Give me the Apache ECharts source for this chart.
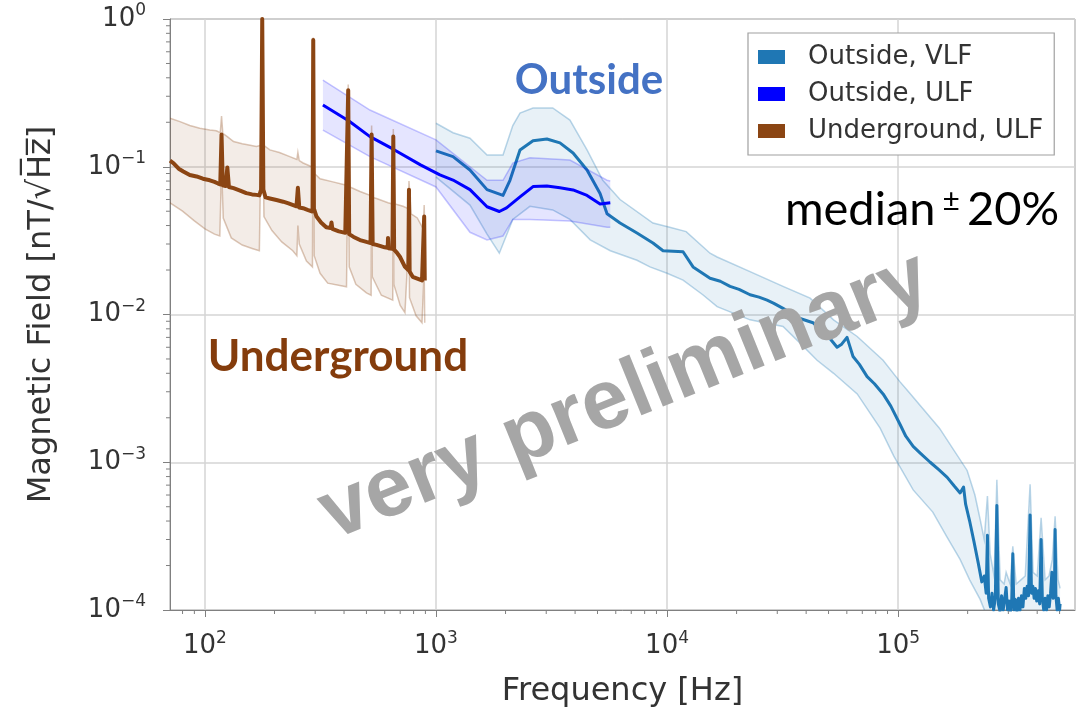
<!DOCTYPE html>
<html>
<head>
<meta charset="utf-8">
<script src="https://cdn.jsdelivr.net/npm/echarts@6/dist/echarts.min.js"></script>
<style>
  html, body { margin: 0; padding: 0; background: #fff; }
  #main { width: 1089px; height: 721px; }
</style>
</head>
<body>
<div id="main"></div>
<script>
// axis ranges and tick values
var X_MIN = 70.6, X_MAX = 583000;
var Y_MIN = 1e-4, Y_MAX = 1;
var xMinorTicks = [70, 80, 90, 200, 300, 400, 500, 600, 700, 800, 900,
  2000, 3000, 4000, 5000, 6000, 7000, 8000, 9000,
  20000, 30000, 40000, 50000, 60000, 70000, 80000, 90000,
  200000, 300000, 400000, 500000];
var yMinorTicks = [2e-4, 3e-4, 4e-4, 5e-4, 6e-4, 7e-4, 8e-4, 9e-4,
  2e-3, 3e-3, 4e-3, 5e-3, 6e-3, 7e-3, 8e-3, 9e-3,
  0.02, 0.03, 0.04, 0.05, 0.06, 0.07, 0.08, 0.09,
  0.2, 0.3, 0.4, 0.5, 0.6, 0.7, 0.8, 0.9];

// Outside, VLF  [frequency Hz, nT/sqrt(Hz)]
var vlfMedian = [[1000,0.128],[1185,0.117],[1403,0.095],[1663,0.070],[1950,0.064],[2090,0.081],[2310,0.130],
  [2630,0.150],[3020,0.154],[3440,0.145],[3920,0.124],[4505,0.095],[5130,0.066],[5500,0.048],[6260,0.0416],
  [7410,0.0356],[8690,0.0305],[9610,0.027],[11730,0.0266],[12960,0.021],[15350,0.0176],[17000,0.0168],
  [18740,0.0155],[20500,0.0148],[22870,0.0136],[25000,0.0131],[27100,0.0125],[29000,0.0119],[31770,0.011],
  [34500,0.0102],[37640,0.0094],[42850,0.0088],[47330,0.0076],[51000,0.0068],[54440,0.0060],[57000,0.0063],
  [60120,0.0070],[63830,0.0052],[68000,0.0046],[73440,0.0038],[79000,0.0034],[86100,0.0029],[93000,0.0024],
  [102000,0.0018],[108000,0.0015],[116200,0.00128],[125000,0.00115],[137700,0.0010],[150000,0.00089],
  [163100,0.00079],[175000,0.00069],[185500,0.00062],[192000,0.00068],[196000,0.00052],[204000,0.00040],
  [213000,0.00029],[222000,0.00021],[230300,0.000155],[236000,0.00017],[240500,0.00013],[243600,0.00032],
  [246500,0.00012],[251000,0.000105],[255000,0.00013],[259000,0.0001],[263500,0.00012],[267600,0.00051],
  [271500,0.00011],[276000,0.000098],[280500,0.000125],[285000,0.0001],[289500,0.00012],[293500,0.000142],
  [297500,0.0001],[302000,0.000115],[306500,0.000098],[310500,0.00012],[313700,0.00024],[317000,0.0001],
  [322000,0.000118],[327000,0.000097],[332000,0.00012],[337000,0.0001],[342000,0.000125],[347000,0.000105],
  [352000,0.00014],[357000,0.00012],[362000,0.000145],[367000,0.000125],[372700,0.00044],[378000,0.00013],
  [383000,0.000145],[388000,0.00012],[393000,0.00014],[398000,0.000115],[404000,0.000135],[410000,0.00011],
  [415900,0.0003],[421000,0.00012],[427000,0.0001],[433000,0.00012],[439000,0.0001],[445000,0.000125],
  [451000,0.000105],[457000,0.00013],[463000,0.00018],[469000,0.00012],[475000,0.00013],[478200,0.00035],
  [482000,0.000125],[488000,0.0001],[494000,0.00012],[500000,0.0001],[502600,0.00011]];
var vlfUpper = [[1000,0.197],[1185,0.17],[1403,0.156],[1663,0.12],[1950,0.12],[2150,0.19],[2310,0.231],
  [2630,0.25],[3200,0.25],[3800,0.207],[4505,0.13],[5270,0.081],[6260,0.06],[8690,0.0416],[10270,0.039],
  [12100,0.0364],[15350,0.026],[16470,0.0245],[22870,0.0195],[31770,0.0155],[41620,0.0129],[52570,0.0092],
  [66530,0.0071],[86100,0.0049],[102000,0.0035],[111000,0.003],[151000,0.0017],[199000,0.00088],
  [215000,0.0006],[226500,0.00041],[236000,0.0003],[243600,0.00059],[250300,0.00024],[260400,0.00017],
  [267600,0.00076],[276500,0.00016],[287700,0.00015],[293500,0.00018],[305500,0.00015],[313700,0.00027],
  [324400,0.00015],[340000,0.00016],[355000,0.00017],[372700,0.00071],[384000,0.00018],[400000,0.00017],
  [415900,0.00042],[432900,0.00016],[450000,0.00017],[465000,0.00022],[478200,0.00043],[492700,0.00016],
  [502600,0.00014]];
var vlfLower = [[1000,0.085],[1403,0.055],[1663,0.035],[1880,0.026],[2150,0.044],[2550,0.054],[3200,0.051],
  [3800,0.044],[4650,0.032],[5680,0.027],[7410,0.0233],[8430,0.021],[10000,0.019],[11730,0.0171],
  [14280,0.0136],[16470,0.0113],[22870,0.0092],[31770,0.0083],[37640,0.0064],[44600,0.0049],[52570,0.0040],
  [66530,0.0029],[83600,0.0017],[95800,0.0011],[116200,0.00065],[141300,0.00046],[163100,0.00031],
  [185500,0.00022],[204000,0.00016],[226500,0.000118],[242900,0.00009],[300000,0.00008],[502600,0.00008]];

// Outside, ULF
var ulfMedian = [[324,0.262],[420,0.204],[518,0.16],[650,0.132],[857,0.103],[1040,0.088],[1185,0.0813],
  [1403,0.070],[1663,0.0536],[1880,0.0498],[2020,0.0527],[2310,0.0625],[2630,0.0734],[3020,0.074],
  [3440,0.072],[3920,0.0697],[4505,0.064],[5130,0.056],[5680,0.057]];
var ulfUpper = [[324,0.386],[518,0.242],[1000,0.152],[1403,0.10],[1663,0.081],[1950,0.081],[2150,0.106],
  [2550,0.115],[3800,0.111],[5500,0.081],[5680,0.08]];
var ulfLower = [[324,0.177],[518,0.117],[1000,0.073],[1403,0.036],[1663,0.032],[1950,0.034],[2150,0.044],
  [2550,0.044],[3800,0.043],[5500,0.039],[5680,0.039]];

// Underground, ULF
var ugMedian = [[70.6,0.110],[73,0.106],[77,0.097],[80.6,0.093],[86,0.088],[92,0.086],[98,0.083],[105,0.081],
  [110,0.079],[114,0.077],[116.5,0.076],[118,0.165],[119.5,0.075],[123,0.074],[125,0.099],[127,0.073],
  [133,0.0716],[142,0.069],[151,0.0663],[160,0.065],[167,0.0645],[172,0.064],[175,0.07],[177,1.0],[179,0.07],
  [183,0.062],[191,0.061],[204,0.0595],[218,0.058],[230,0.0565],[241,0.055],[249,0.054],[252.5,0.072],
  [256,0.053],[266,0.0524],[278,0.051],[290,0.0498],[292.3,0.052],[294.3,0.72],[296.3,0.052],[304,0.046],
  [318,0.042],[335,0.039],[350,0.0385],[353,0.042],[356,0.038],[380,0.0365],[405,0.0357],[413,0.036],
  [417,0.33],[421,0.035],[440,0.0335],[469,0.0319],[500,0.031],[521,0.0305],[526.5,0.165],[532,0.030],
  [553,0.0296],[600,0.0285],[618,0.0283],[620,0.033],[623,0.0281],[648,0.0278],[653.5,0.16],[659,0.0275],
  [680,0.026],[698,0.0246],[734,0.021],[759,0.020],[764,0.07],[769,0.0195],[793,0.018],[830,0.0175],
  [870,0.017],[884,0.0168],[889,0.046],[894,0.017]];
var ugUpper = [[70.6,0.213],[78,0.202],[86,0.19],[95,0.182],[105,0.177],[112,0.175],[116.5,0.17],[118,0.22],
  [119.5,0.168],[125,0.16],[133,0.148],[145,0.143],[157,0.14],[167,0.137],[175,0.14],[177,1.05],[179,0.14],
  [191,0.13],[210,0.125],[233,0.117],[250,0.112],[252.5,0.125],[256,0.11],[266,0.106],[290,0.1],
  [294.3,0.75],[298,0.09],[315,0.083],[358,0.079],[410,0.075],[417,0.36],[424,0.073],[469,0.068],
  [520,0.064],[526.5,0.19],[533,0.062],[553,0.061],[620,0.057],[648,0.056],[653.5,0.18],[665,0.056],
  [720,0.054],[759,0.052],[764,0.08],[780,0.048],[830,0.045],[880,0.038],[889,0.055],[894,0.037]];
var ugLower = [[70.6,0.057],[80,0.05],[90,0.043],[100,0.038],[110,0.035],[116,0.034],[118,0.1],[120,0.045],
  [130,0.033],[145,0.0295],[160,0.028],[172,0.027],[177,0.5],[180,0.046],[195,0.037],[215,0.031],
  [240,0.027],[250,0.025],[252.5,0.04],[256,0.03],[275,0.023],[292,0.021],[294.3,0.4],[297,0.025],
  [315,0.019],[340,0.0163],[410,0.0154],[417,0.15],[421,0.021],[450,0.016],[500,0.014],[524,0.0135],
  [526.5,0.1],[530,0.018],[580,0.0135],[650,0.0125],[653.5,0.1],[657,0.016],[700,0.0115],[734,0.0103],
  [764,0.035],[768,0.013],[820,0.0098],[870,0.0088],[889,0.02],[894,0.0088]];

var FONT = "'DejaVu Sans', sans-serif";
var GRID_C = '#d4d4d4', FRAME_C = '#808080';

function powLabel(v) {
  var e = Math.round(Math.log10(v));
  return '{b|10}{s|' + (e < 0 ? '\u2212' + (-e) : e) + '}';
}
var labelRich = {
  b: { fontSize: 26, fontFamily: FONT, color: '#333' },
  s: { fontSize: 17, fontFamily: FONT, color: '#333', padding: [0, 0, 16, 0] }
};

// shaded percentile band, drawn through the grid's coord system
function band(name, upper, lower, fill, edge, z) {
  return {
    type: 'custom', name: name, coordinateSystem: 'cartesian2d',
    clip: true, silent: true, z: z,
    data: [upper[0]],
    renderItem: function (params, api) {
      var up = upper.map(function (d) { return api.coord(d); });
      var lo = lower.map(function (d) { return api.coord(d); });
      return { type: 'group', children: [
        { type: 'polygon', shape: { points: up.concat(lo.slice().reverse()) }, style: { fill: fill } },
        { type: 'polyline', shape: { points: up }, style: { stroke: edge, lineWidth: 1.5, fill: null } },
        { type: 'polyline', shape: { points: lo }, style: { stroke: edge, lineWidth: 1.5, fill: null } }
      ]};
    }
  };
}

function medianLine(name, data, color, width, z) {
  return {
    type: 'line', name: name, data: data, showSymbol: false, z: z,
    color: color, itemStyle: { color: color },
    lineStyle: { color: color, width: width, join: 'round' }
  };
}

function minorTicks(vals, isX) {
  var data = isX
    ? vals.filter(function (v) { return v >= X_MIN && v <= X_MAX; }).map(function (v) { return [v, Y_MIN]; })
    : vals.map(function (v) { return [X_MIN, v]; });
  return {
    type: 'custom', coordinateSystem: 'cartesian2d', clip: false, silent: true, z: 1,
    data: data,
    renderItem: function (params, api) {
      var p = api.coord([api.value(0), api.value(1)]);
      return { type: 'line',
        shape: isX ? { x1: p[0], y1: p[1], x2: p[0], y2: p[1] + 4 } : { x1: p[0], y1: p[1], x2: p[0] - 4, y2: p[1] },
        style: { stroke: FRAME_C, lineWidth: 1 } };
    }
  };
}

var myChart = echarts.init(document.getElementById('main'));
var option = {
  backgroundColor: '#fff',
  animation: false,
  grid: { left: 170, right: 14, top: 19, bottom: 111, show: true, borderColor: FRAME_C, borderWidth: 1 },
  legend: {
    orient: 'vertical', left: 748, top: 33,
    data: ['Outside, VLF', 'Outside, ULF', 'Underground, ULF'],
    icon: 'rect', itemWidth: 27, itemHeight: 14, itemGap: 11,
    padding: [11, 11, 11, 10],
    borderColor: '#a0a0a0', borderWidth: 1.2, backgroundColor: '#fff',
    textStyle: { fontSize: 26, fontFamily: FONT, color: '#333', padding: [0, 0, 0, 18] }
  },
  xAxis: {
    type: 'log', logBase: 10, min: X_MIN, max: X_MAX,
    name: 'Frequency [Hz]', nameLocation: 'middle', nameGap: 66,
    nameTextStyle: { fontSize: 32, fontFamily: FONT, color: '#333' },
    axisLine: { show: true, lineStyle: { color: FRAME_C, width: 1 } },
    axisTick: { show: true, length: 7, lineStyle: { color: FRAME_C } },
    axisLabel: { showMinLabel: false, showMaxLabel: false, margin: 20, formatter: powLabel, rich: labelRich },
    splitLine: { show: true, lineStyle: { color: GRID_C, width: 1.5 } }
  },
  yAxis: {
    type: 'log', logBase: 10, min: Y_MIN, max: Y_MAX,
    name: 'Magnetic Field [nT/\u221AH\u0305z\u0305]', nameLocation: 'middle', nameGap: 112,
    nameTextStyle: { fontSize: 32, fontFamily: FONT, color: '#333' },
    axisLine: { show: true, lineStyle: { color: FRAME_C, width: 1 } },
    axisTick: { show: true, length: 7, lineStyle: { color: FRAME_C } },
    axisLabel: { margin: 24, formatter: powLabel, rich: labelRich },
    splitLine: { show: true, lineStyle: { color: GRID_C, width: 1.5 } }
  },
  series: [
    band('vlf band', vlfUpper, vlfLower, 'rgba(31,119,180,0.10)', 'rgba(31,119,180,0.30)', 2),
    medianLine('Outside, VLF', vlfMedian, '#1f77b4', 3, 3),
    band('ulf band', ulfUpper, ulfLower, 'rgba(0,0,255,0.10)', 'rgba(0,0,255,0.22)', 4),
    medianLine('Outside, ULF', ulfMedian, '#0000ff', 3, 5),
    band('ug band', ugUpper, ugLower, 'rgba(139,69,19,0.10)', 'rgba(139,69,19,0.30)', 6),
    medianLine('Underground, ULF', ugMedian, '#8b4513', 4, 7),
    minorTicks(xMinorTicks, true),
    minorTicks(yMinorTicks, false)
  ],
  graphic: [
    { type: 'text', x: 589, y: 80, z: 100,
      style: { text: 'Outside', fill: '#4472c4', font: 'bold 42px Lato', align: 'center', verticalAlign: 'middle' } },
    { type: 'text', x: 338, y: 357, z: 100,
      style: { text: 'Underground', fill: '#843c0c', font: 'bold 44px Lato', align: 'center', verticalAlign: 'middle' } },
    { type: 'text', x: 922, y: 210, z: 100,
      style: { text: '{a|median}{p|\u00B1}{a|20%}', align: 'center', verticalAlign: 'middle',
        rich: { a: { font: '47px Lato', fill: '#000' },
                p: { font: '30px Lato', fill: '#000', padding: [0, 7, 18, 7] } } } },
    { type: 'text', x: 625, y: 397, z: 100, rotation: 22 * Math.PI / 180,
      style: { text: 'very preliminary', fill: '#a6a6a6', font: 'bold 84px "Liberation Sans"',
        align: 'center', verticalAlign: 'middle' } }
  ]
};
myChart.setOption(option);
</script>
</body>
</html>
